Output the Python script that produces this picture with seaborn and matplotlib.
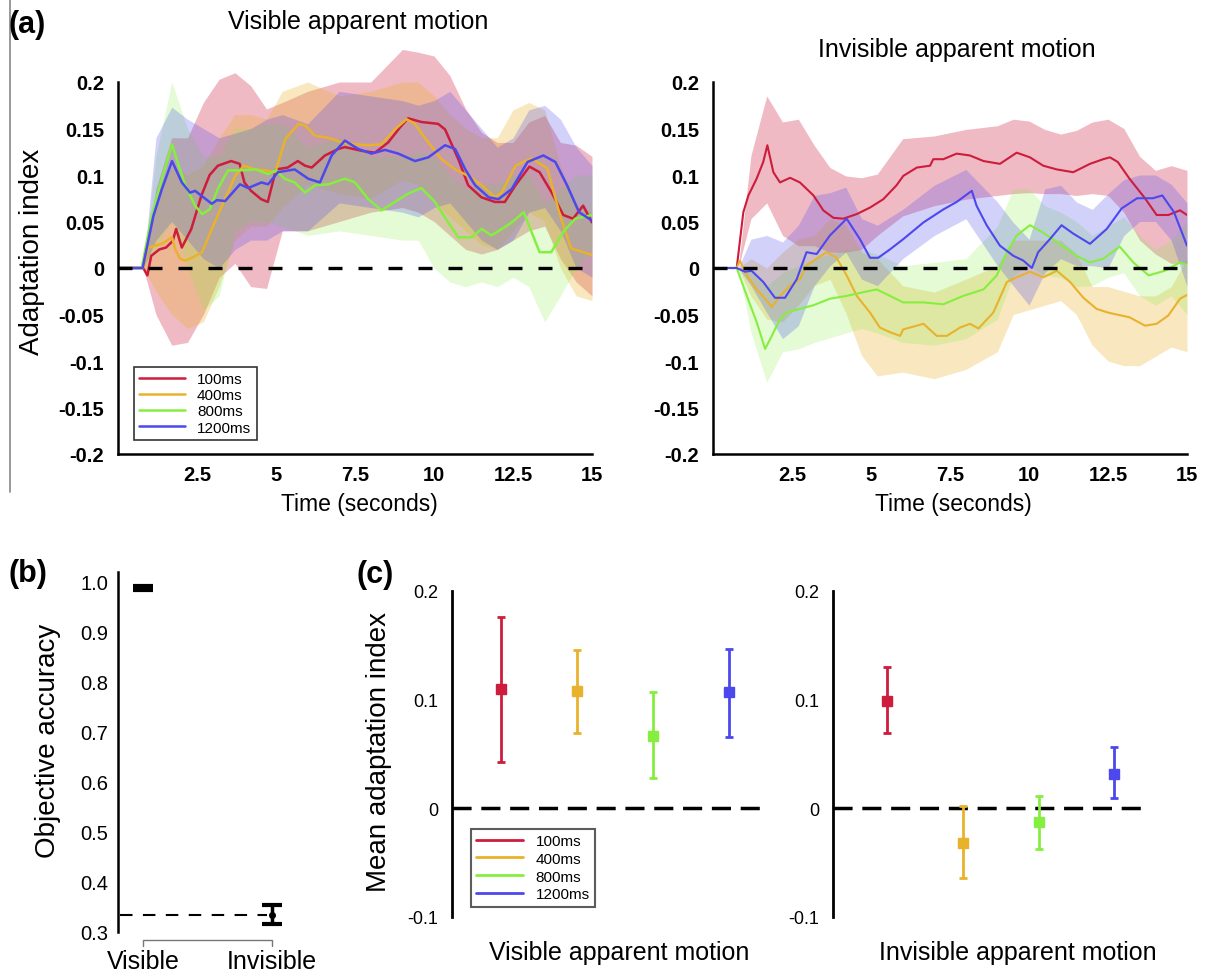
import pandas as pd
import seaborn as sns
import matplotlib.pyplot as plt
from matplotlib.lines import Line2D

sns.set_theme(style='white')
plt.rcParams['font.family'] = ['Liberation Sans', 'DejaVu Sans']
plt.rcParams['text.color'] = 'black'
plt.rcParams['axes.labelcolor'] = 'black'
plt.rcParams['xtick.color'] = 'black'
plt.rcParams['ytick.color'] = 'black'

DURATIONS = ['100ms', '400ms', '800ms', '1200ms']
COLORS = ['#cd1c3c', '#e9b22c', '#86ee40', '#4c48ee']
BAND_ALPHA = [0.3, 0.3, 0.22, 0.25]

# ---- (a) time courses: visible apparent motion ----
VIS_RED_T = [0, 0.8, 0.93, 1.05, 1.31, 1.52, 1.73, 1.84, 2.02, 2.32, 2.64, 2.9, 3.16, 3.58, 3.85, 4.0,
             4.21, 4.53, 4.74, 5.0, 5.37, 5.69, 5.92, 6.13, 6.55, 6.97, 7.18, 7.71, 8.13, 8.55, 8.92, 9.18,
             9.6, 10.13, 10.35, 10.77, 11.08, 11.5, 11.93, 12.24, 12.58, 13.02, 13.34, 13.71, 14.09, 14.4,
             14.72, 15]
VIS_RED = [0, 0, -0.008, 0.013, 0.02, 0.022, 0.029, 0.042, 0.022, 0.042, 0.078, 0.1, 0.11, 0.115, 0.112,
           0.092, 0.083, 0.074, 0.071, 0.106, 0.108, 0.115, 0.11, 0.108, 0.121, 0.128, 0.13, 0.126, 0.124,
           0.135, 0.151, 0.161, 0.157, 0.155, 0.149, 0.117, 0.089, 0.076, 0.071, 0.071, 0.089, 0.109, 0.103,
           0.082, 0.057, 0.053, 0.067, 0.049]
VIS_YEL_T = [0, 0.8, 0.96, 1.39, 1.71, 1.81, 1.97, 2.13, 2.34, 2.66, 2.97, 3.29, 3.71, 3.98, 4.35, 4.67,
             4.98, 5.3, 5.72, 5.93, 6.24, 6.66, 7.08, 7.5, 7.92, 8.34, 8.76, 9.13, 9.39, 9.82, 10.24, 10.67,
             11.09, 11.51, 11.93, 12.14, 12.58, 13.08, 13.59, 13.96, 14.34, 14.72, 15]
VIS_YEL = [0, 0, 0.022, 0.026, 0.033, 0.02, 0.01, 0.008, 0.011, 0.017, 0.042, 0.067, 0.099, 0.11, 0.106,
           0.105, 0.103, 0.139, 0.155, 0.153, 0.142, 0.14, 0.135, 0.133, 0.132, 0.133, 0.149, 0.16, 0.155,
           0.135, 0.117, 0.106, 0.099, 0.089, 0.076, 0.081, 0.11, 0.118, 0.107, 0.06, 0.021, 0.017, 0.014]
VIS_GRN_T = [0, 0.75, 1.05, 1.39, 1.71, 1.92, 2.13, 2.44, 2.66, 2.9, 3.16, 3.48, 3.9, 4.35, 4.75, 5.0,
             5.27, 5.59, 5.92, 6.24, 6.66, 7.18, 7.5, 7.92, 8.34, 8.76, 9.18, 9.6, 10.03, 10.45, 10.77,
             11.19, 11.51, 11.82, 12.24, 12.46, 12.84, 13.34, 13.71, 14.09, 14.47, 15]
VIS_GRN = [0, 0, 0.053, 0.096, 0.133, 0.11, 0.089, 0.067, 0.058, 0.063, 0.085, 0.105, 0.105, 0.106, 0.101,
           0.105, 0.096, 0.092, 0.081, 0.089, 0.09, 0.096, 0.092, 0.074, 0.062, 0.071, 0.08, 0.086, 0.071,
           0.049, 0.033, 0.033, 0.042, 0.035, 0.044, 0.049, 0.06, 0.017, 0.017, 0.039, 0.053, 0.057]
VIS_BLU_T = [0, 0.78, 1.12, 1.39, 1.71, 2.02, 2.28, 2.44, 2.97, 3.13, 3.39, 3.86, 4.12, 4.54, 4.75, 5.06,
             5.59, 6.02, 6.39, 6.76, 7.18, 7.6, 8.02, 8.45, 8.87, 9.4, 9.82, 10.35, 10.67, 10.99, 11.3,
             11.73, 12.04, 12.46, 12.96, 13.46, 13.84, 14.21, 14.59, 15]
VIS_BLU = [0, 0, 0.056, 0.085, 0.115, 0.092, 0.081, 0.083, 0.069, 0.073, 0.072, 0.09, 0.086, 0.092, 0.09,
           0.103, 0.106, 0.096, 0.092, 0.121, 0.137, 0.128, 0.123, 0.127, 0.123, 0.115, 0.119, 0.132, 0.128,
           0.106, 0.089, 0.076, 0.074, 0.085, 0.114, 0.121, 0.114, 0.089, 0.06, 0.051]

# ---- (a) time courses: invisible apparent motion ----
INV_RED_T = [0, 0.75, 0.96, 1.12, 1.38, 1.59, 1.72, 1.91, 2.12, 2.44, 2.75, 3.18, 3.49, 3.81, 4.12, 4.55,
             4.97, 5.39, 5.81, 6.02, 6.45, 6.87, 6.97, 7.29, 7.71, 8.13, 8.56, 9.08, 9.61, 10.03, 10.45,
             10.88, 11.4, 11.93, 12.35, 12.56, 12.81, 13.18, 13.67, 14.04, 14.41, 14.78, 15]
INV_RED = [0, 0, 0.06, 0.078, 0.096, 0.114, 0.132, 0.103, 0.092, 0.097, 0.092, 0.078, 0.062, 0.054, 0.053,
           0.058, 0.065, 0.074, 0.089, 0.099, 0.108, 0.11, 0.117, 0.117, 0.123, 0.121, 0.115, 0.112, 0.124,
           0.119, 0.11, 0.106, 0.103, 0.112, 0.117, 0.119, 0.114, 0.096, 0.075, 0.057, 0.057, 0.062, 0.057]
INV_YEL_T = [0, 0.75, 0.85, 1.07, 1.38, 1.7, 1.86, 2.12, 2.44, 2.75, 2.96, 3.28, 3.6, 3.91, 4.23, 4.55,
             4.97, 5.28, 5.6, 5.92, 6.02, 6.66, 7.08, 7.4, 7.82, 8.13, 8.4, 8.87, 9.3, 9.61, 10.03, 10.45,
             10.88, 11.3, 11.72, 12.14, 12.51, 13.18, 13.67, 14.04, 14.41, 14.78, 15]
INV_YEL = [0, 0, 0.008, -0.008, -0.023, -0.035, -0.042, -0.03, -0.019, -0.012, 0.0025, 0.01, 0.017, 0.011,
           -0.008, -0.03, -0.048, -0.064, -0.069, -0.073, -0.066, -0.06, -0.073, -0.073, -0.064, -0.06,
           -0.065, -0.048, -0.015, -0.01, -0.004, -0.01, -0.003, -0.015, -0.032, -0.044, -0.048, -0.053,
           -0.062, -0.06, -0.051, -0.033, -0.029]
INV_GRN_T = [0, 0.75, 1.07, 1.38, 1.65, 1.86, 2.12, 2.33, 2.75, 3.18, 3.7, 4.23, 4.76, 5.18, 5.6, 6.02,
             6.66, 7.29, 7.92, 8.56, 8.98, 9.3, 9.61, 10.03, 10.45, 10.88, 11.51, 11.93, 12.35, 12.87, 13.3,
             13.79, 14.29, 14.78, 15]
INV_GRN = [0, 0, -0.03, -0.058, -0.087, -0.073, -0.055, -0.048, -0.044, -0.04, -0.033, -0.03, -0.026,
           -0.023, -0.03, -0.037, -0.037, -0.039, -0.03, -0.023, -0.008, 0.017, 0.035, 0.046, 0.038, 0.028,
           0.013, 0.006, 0.01, 0.023, 0.006, -0.008, -0.003, 0.006, 0.003]
INV_BLU_T = [0, 0.75, 1.01, 1.22, 1.59, 1.96, 2.28, 2.65, 2.96, 3.28, 3.7, 4.23, 4.65, 4.97, 5.23, 5.6,
             6.02, 6.66, 7.29, 7.71, 8.19, 8.34, 8.66, 9.08, 9.51, 9.82, 10.09, 10.29, 10.66, 11.03, 11.4,
             11.93, 12.46, 12.93, 13.42, 13.92, 14.22, 14.59, 15]
INV_BLU = [0, 0, -0.004, -0.003, -0.015, -0.032, -0.032, -0.012, 0.017, 0.015, 0.035, 0.053, 0.031, 0.011,
           0.011, 0.02, 0.031, 0.049, 0.063, 0.071, 0.083, 0.067, 0.046, 0.024, 0.013, 0.008, 0.0, 0.017,
           0.031, 0.046, 0.037, 0.026, 0.042, 0.064, 0.075, 0.075, 0.078, 0.06, 0.024]

# ---- (a) shaded error bands (read on a coarser grid) ----
BAND_T = [0, 0.8, 1.2, 1.7, 2.2, 2.7, 3.2, 3.7, 4.2, 4.7, 5.2, 6, 7, 8, 9, 9.5, 10, 10.5, 11, 11.5, 12,
          12.5, 13, 13.5, 14, 14.5, 15]
VIS_RED_LO = [0, 0, -0.05, -0.083, -0.08, -0.05, -0.01, 0.005, -0.02, -0.022, 0.04, 0.04, 0.05, 0.06, 0.065,
              0.06, 0.05, 0.035, 0.02, 0.015, 0.02, 0.03, 0.04, 0.045, 0.01, -0.015, -0.03]
VIS_RED_HI = [0, 0, 0.085, 0.14, 0.14, 0.178, 0.203, 0.21, 0.196, 0.171, 0.178, 0.19, 0.2, 0.2, 0.235,
              0.232, 0.228, 0.207, 0.171, 0.146, 0.135, 0.135, 0.157, 0.164, 0.135, 0.132, 0.12]
VIS_YEL_LO = [0, 0, -0.025, -0.05, -0.065, -0.058, -0.02, 0.03, 0.045, 0.045, 0.065, 0.09, 0.08, 0.075,
              0.095, 0.09, 0.07, 0.055, 0.04, 0.025, 0.02, 0.04, 0.06, 0.05, 0.0, -0.03, -0.035]
VIS_YEL_HI = [0, 0, 0.07, 0.11, 0.1, 0.11, 0.14, 0.165, 0.165, 0.16, 0.19, 0.2, 0.185, 0.19, 0.2, 0.2,
              0.185, 0.165, 0.15, 0.14, 0.14, 0.17, 0.178, 0.17, 0.11, 0.07, 0.06]
VIS_GRN_LO = [0, 0, 0.02, 0.05, 0.0, -0.045, -0.03, 0.04, 0.05, 0.05, 0.045, 0.035, 0.04, 0.035, 0.03,
              0.03, 0.0, -0.015, -0.02, -0.015, -0.02, -0.01, -0.02, -0.058, -0.03, 0.0, 0.02]
VIS_GRN_HI = [0, 0, 0.12, 0.2, 0.15, 0.12, 0.12, 0.15, 0.15, 0.155, 0.155, 0.13, 0.14, 0.12, 0.12, 0.125,
              0.12, 0.1, 0.085, 0.09, 0.09, 0.1, 0.1, 0.07, 0.085, 0.1, 0.1]
VIS_BLU_LO = [0, 0, 0.03, 0.05, 0.03, 0.01, 0.0, 0.02, 0.03, 0.03, 0.04, 0.04, 0.07, 0.065, 0.06, 0.055,
              0.065, 0.07, 0.05, 0.03, 0.02, 0.03, 0.06, 0.065, 0.04, 0.0, -0.01]
VIS_BLU_HI = [0, 0, 0.14, 0.173, 0.16, 0.15, 0.14, 0.145, 0.15, 0.16, 0.165, 0.155, 0.19, 0.185, 0.18,
              0.175, 0.18, 0.19, 0.17, 0.15, 0.13, 0.14, 0.17, 0.175, 0.16, 0.13, 0.11]

INV_RED_LO = [0, 0, 0.053, 0.07, 0.035, 0.024, 0.024, 0.017, 0.017, 0.02, 0.035, 0.056, 0.067, 0.074,
              0.078, 0.08, 0.081, 0.08, 0.08, 0.078, 0.08, 0.078, 0.06, 0.03, 0.015, 0.005, 0.005]
INV_RED_HI = [0, 0, 0.121, 0.185, 0.157, 0.16, 0.132, 0.108, 0.099, 0.097, 0.101, 0.139, 0.142, 0.149,
              0.153, 0.16, 0.158, 0.149, 0.144, 0.148, 0.157, 0.16, 0.15, 0.12, 0.105, 0.11, 0.105]
INV_YEL_LO = [0, 0, -0.03, -0.055, -0.058, -0.04, -0.019, -0.012, -0.048, -0.094, -0.116, -0.112, -0.119,
              -0.109, -0.09, -0.05, -0.045, -0.04, -0.035, -0.05, -0.083, -0.1, -0.105, -0.105, -0.095,
              -0.085, -0.09]
INV_YEL_HI = [0, 0, 0.01, 0.0, 0.017, 0.031, 0.035, 0.053, 0.046, 0.017, 0.01, -0.019, -0.026, -0.012,
              0.0025, 0.03, 0.03, 0.03, 0.03, 0.015, -0.02, -0.02, -0.025, -0.03, -0.03, -0.02, 0.01]
INV_GRN_LO = [0, 0, -0.069, -0.123, -0.09, -0.087, -0.08, -0.075, -0.07, -0.065, -0.07, -0.08, -0.083,
              -0.076, -0.055, -0.008, 0.0025, -0.008, -0.01, -0.02, -0.019, -0.01, -0.005, -0.03, -0.04,
              -0.03, -0.05]
INV_GRN_HI = [0, 0, 0.0, -0.019, -0.005, 0.0025, 0.01, 0.015, 0.02, 0.02, 0.015, 0.0025, 0.006, 0.01,
              0.045, 0.085, 0.085, 0.067, 0.06, 0.05, 0.035, 0.045, 0.055, 0.035, 0.02, 0.03, 0.05]
INV_BLU_LO = [0, 0, -0.019, -0.048, -0.076, -0.062, -0.019, 0.0025, 0.017, -0.012, -0.019, 0.01, 0.035,
              0.053, 0.0025, -0.019, -0.04, -0.005, 0.01, 0.0025, 0.0025, 0.0, 0.035, 0.05, 0.05, 0.03, -0.02]
INV_BLU_HI = [0, 0, 0.031, 0.035, 0.028, 0.046, 0.078, 0.081, 0.087, 0.053, 0.046, 0.063, 0.089, 0.106,
              0.071, 0.049, 0.031, 0.085, 0.089, 0.071, 0.063, 0.08, 0.095, 0.1, 0.1, 0.09, 0.07]

A_XTICKS = [2.5, 5, 7.5, 10, 12.5, 15]
A_XLABELS = ['2.5', '5', '7.5', '10', '12.5', '15']
A_YTICKS = [-0.2, -0.15, -0.1, -0.05, 0, 0.05, 0.1, 0.15, 0.2]
A_YLABELS = ['-0.2', '-0.15', '-0.1', '-0.05', '0', '0.05', '0.1', '0.15', '0.2']

# ---- (b) objective accuracy ----
ACC_LABELS = ['Visible', 'Invisible']
ACC_MEAN = [0.987, 0.334]
ACC_ERR = [0.004, 0.019]
CHANCE = 1 / 3

# ---- (c) mean adaptation index ----
C_VIS_MEAN = [0.110, 0.108, 0.067, 0.107]
C_VIS_LO = [0.043, 0.0695, 0.028, 0.066]
C_VIS_HI = [0.176, 0.146, 0.107, 0.147]
C_INV_MEAN = [0.099, -0.032, -0.013, 0.032]
C_INV_LO = [0.069, -0.064, -0.037, 0.0098]
C_INV_HI = [0.130, 0.002, 0.011, 0.056]


def long_df(times, values):
    parts = []
    for lab, t, v in zip(DURATIONS, times, values):
        parts.append(pd.DataFrame({'time': t, 'adapt': v, 'duration': lab}))
    return pd.concat(parts, ignore_index=True)


W, H = 1207, 978
fig = plt.figure(figsize=(W / 100, H / 100), dpi=100)


def box(x0, y0, x1, y1):
    # pixel box -> figure fraction
    return [x0 / W, 1 - y1 / H, (x1 - x0) / W, (y1 - y0) / H]


def time_panel(rect, times, values, lows, highs, lw):
    ax = fig.add_axes(rect)
    for c, a, lo, hi in zip(COLORS, BAND_ALPHA, lows, highs):
        ax.fill_between(BAND_T, lo, hi, color=c, alpha=a, lw=0)
    df = long_df(times, values)
    sns.lineplot(data=df, x='time', y='adapt', hue='duration', hue_order=DURATIONS,
                 palette=COLORS, estimator=None, sort=False, legend=False, lw=lw, ax=ax)
    ax.axhline(0, color='black', lw=2.4, dashes=(4.2, 4.8), zorder=5)
    ax.set_xlim(0, 15)
    ax.set_ylim(-0.2, 0.25)
    for s in ['top', 'right']:
        ax.spines[s].set_visible(False)
    for s in ['left', 'bottom']:
        ax.spines[s].set_color('black')
        ax.spines[s].set_linewidth(1.8)
    ax.spines['left'].set_bounds(-0.2, 0.2)
    ax.set_xticks(A_XTICKS)
    ax.set_xticklabels(A_XLABELS, fontsize=14.5, fontweight='bold')
    ax.set_yticks(A_YTICKS)
    ax.set_yticklabels(A_YLABELS, fontsize=14.5, fontweight='bold')
    ax.tick_params(axis='both', direction='in', length=4, width=1.2, colors='black')
    ax.tick_params(axis='y', pad=10)
    ax.tick_params(axis='x', pad=8)
    ax.set_xlabel('')
    ax.set_ylabel('')
    return ax


ax_vis = time_panel(box(118, 36.5, 592, 455),
                    [VIS_RED_T, VIS_YEL_T, VIS_GRN_T, VIS_BLU_T],
                    [VIS_RED, VIS_YEL, VIS_GRN, VIS_BLU],
                    [VIS_RED_LO, VIS_YEL_LO, VIS_GRN_LO, VIS_BLU_LO],
                    [VIS_RED_HI, VIS_YEL_HI, VIS_GRN_HI, VIS_BLU_HI], 1.8)
ax_inv = time_panel(box(713, 36.5, 1187, 455),
                    [INV_RED_T, INV_YEL_T, INV_GRN_T, INV_BLU_T],
                    [INV_RED, INV_YEL, INV_GRN, INV_BLU],
                    [INV_RED_LO, INV_YEL_LO, INV_GRN_LO, INV_BLU_LO],
                    [INV_RED_HI, INV_YEL_HI, INV_GRN_HI, INV_BLU_HI], 1.5)

handles = [Line2D([], [], color=c, lw=1.8) for c in COLORS]
leg = ax_vis.legend(handles, DURATIONS, loc='lower left', bbox_to_anchor=(0.017, 0.015),
                    fontsize=11, frameon=True, fancybox=False, handlelength=3.0,
                    handletextpad=0.8, labelspacing=0.15, borderpad=0.35)
leg.get_frame().set_edgecolor('black')
leg.get_frame().set_linewidth(1.2)

fig.text(358 / W, 1 - 22 / H, 'Visible apparent motion', fontsize=18, ha='center', va='center')
fig.text(957 / W, 1 - 50 / H, 'Invisible apparent motion', fontsize=18, ha='center', va='center')
fig.text(32 / W, 1 - 252 / H, 'Adaptation index', fontsize=20, rotation=90, ha='center', va='center')
fig.text(359 / W, 1 - 505 / H, 'Time (seconds)', fontsize=16.5, ha='center', va='center')
fig.text(953 / W, 1 - 505 / H, 'Time (seconds)', fontsize=16.5, ha='center', va='center')

# ---- (b) ----
ax_b = fig.add_axes(box(118, 572, 300, 950))
ax_b.errorbar(x=[0, 1], y=ACC_MEAN, yerr=ACC_ERR, fmt='o', color='black', ms=4,
              lw=2.5, capsize=7, capthick=3, zorder=4)
ax_b.plot([-0.18, 0.96], [CHANCE, CHANCE], color='black', lw=1.5, dashes=(6, 5))
ax_b.plot([0, 0, 1, 1], [0.2726, 0.2846, 0.2846, 0.2726], color='#777777', lw=1, clip_on=False)
ax_b.set_xlim(-0.194, 1.217)
ax_b.set_ylim(0.266, 1.02)
for s in ['top', 'right', 'bottom']:
    ax_b.spines[s].set_visible(False)
ax_b.spines['left'].set_color('black')
ax_b.spines['left'].set_linewidth(1.8)
ax_b.spines['left'].set_bounds(0.3, 1.018)
ax_b.set_yticks([0.3, 0.4, 0.5, 0.6, 0.7, 0.8, 0.9, 1.0])
ax_b.set_yticklabels(['0.3', '0.4', '0.5', '0.6', '0.7', '0.8', '0.9', '1.0'], fontsize=14.5)
ax_b.set_xticks([0, 1])
ax_b.set_xticklabels(ACC_LABELS, fontsize=18)
ax_b.tick_params(axis='both', length=0, colors='black')
ax_b.tick_params(axis='y', pad=7)
ax_b.tick_params(axis='x', pad=0)
fig.text(48 / W, 1 - 741 / H, 'Objective accuracy', fontsize=20, rotation=90, ha='center', va='center')


# ---- (c) ----
def mean_panel(rect, xlim, means, lows, highs, label, label_x):
    ax = fig.add_axes(rect)
    for i, (c, m, lo, hi) in enumerate(zip(COLORS, means, lows, highs)):
        ax.errorbar(x=[i + 1], y=[m], yerr=[[m - lo], [hi - m]], fmt='s', color=c, ms=6.5,
                    lw=2, capsize=3, capthick=2)
    ax.axhline(0, color='black', lw=2.5, dashes=(5.5, 2.8), zorder=0)
    ax.set_xlim(*xlim)
    ax.set_ylim(-0.1, 0.2)
    for s in ['top', 'right', 'bottom']:
        ax.spines[s].set_visible(False)
    ax.spines['left'].set_color('black')
    ax.spines['left'].set_linewidth(2)
    ax.set_xticks([])
    ax.set_yticks([-0.1, 0, 0.1, 0.2])
    ax.set_yticklabels(['-0.1', '0', '0.1', '0.2'], fontsize=13)
    ax.tick_params(axis='y', length=0, pad=10, colors='black')
    ax.set_xlabel(label, fontsize=18)
    ax.xaxis.set_label_coords(label_x, -0.07)
    return ax


ax_c1 = mean_panel(box(452, 592, 767, 918), (0.35, 4.5), C_VIS_MEAN, C_VIS_LO, C_VIS_HI,
                   'Visible apparent motion', 0.53)
ax_c2 = mean_panel(box(833, 592, 1147, 918), (0.28, 4.43), C_INV_MEAN, C_INV_LO, C_INV_HI,
                   'Invisible apparent motion', 0.59)
handles_c = [Line2D([], [], color=c, lw=2) for c in COLORS]
leg_c = ax_c1.legend(handles_c, DURATIONS, loc='lower left', bbox_to_anchor=(0.035, 0.008),
                     fontsize=11, frameon=True, fancybox=False, handlelength=3.1,
                     handletextpad=0.8, labelspacing=0.25, borderpad=0.35)
leg_c.get_frame().set_edgecolor('#333333')
leg_c.get_frame().set_linewidth(1.5)
fig.text(379 / W, 1 - 752 / H, 'Mean adaptation index', fontsize=20, rotation=90,
         ha='center', va='center')

# panel letters and the thin rule at the left of (a)
fig.text(8 / W, 1 - 25 / H, '(a)', fontsize=22, fontweight='bold', va='center')
fig.text(8 / W, 1 - 574 / H, '(b)', fontsize=22, fontweight='bold', va='center')
fig.text(357 / W, 1 - 575 / H, '(c)', fontsize=22, fontweight='bold', va='center')
fig.add_artist(Line2D([9.5 / W, 9.5 / W], [1, 1 - 493 / H], color='#888888', lw=1.2))

fig.savefig('out.png', dpi=100)
